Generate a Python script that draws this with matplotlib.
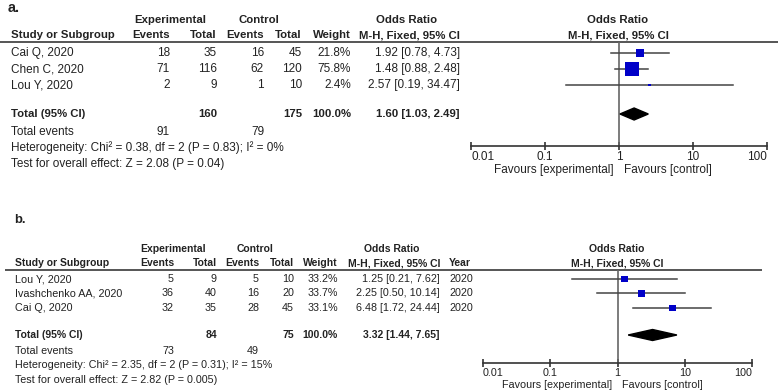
import matplotlib.pyplot as plt
import numpy as np

plt.rcParams['font.family'] = ['Liberation Sans', 'DejaVu Sans']

W, H = 778, 392

# ---- panel a data ----
a_study = ['Cai Q, 2020', 'Chen C, 2020', 'Lou Y, 2020']
a_exp_events = [18, 71, 2]
a_exp_total = [35, 116, 9]
a_ctrl_events = [16, 62, 1]
a_ctrl_total = [45, 120, 10]
a_weight = [21.8, 75.8, 2.4]
a_or = [1.92, 1.48, 2.57]
a_lo = [0.78, 0.88, 0.19]
a_hi = [4.73, 2.48, 34.47]
a_total = dict(exp_total=160, ctrl_total=175, weight=100.0, est=1.60, lo=1.03, hi=2.49,
               exp_events=91, ctrl_events=79)
a_het = 'Heterogeneity: Chi² = 0.38, df = 2 (P = 0.83); I² = 0%'
a_test = 'Test for overall effect: Z = 2.08 (P = 0.04)'

# ---- panel b data ----
b_study = ['Lou Y, 2020', 'Ivashchenko AA, 2020', 'Cai Q, 2020']
b_exp_events = [5, 36, 32]
b_exp_total = [9, 40, 35]
b_ctrl_events = [5, 16, 28]
b_ctrl_total = [10, 20, 45]
b_weight = [33.2, 33.7, 33.1]
b_or = [1.25, 2.25, 6.48]
b_lo = [0.21, 0.50, 1.72]
b_hi = [7.62, 10.14, 24.44]
b_year = [2020, 2020, 2020]
b_total = dict(exp_total=84, ctrl_total=75, weight=100.0, est=3.32, lo=1.44, hi=7.65,
               exp_events=73, ctrl_events=49)
b_het = 'Heterogeneity: Chi² = 2.35, df = 2 (P = 0.31); I² = 15%'
b_test = 'Test for overall effect: Z = 2.82 (P = 0.005)'

ticks = [0.01, 0.1, 1, 10, 100]
tick_labels = ['0.01', '0.1', '1', '10', '100']

TXT = '#222222'

fig = plt.figure(figsize=(W / 100, H / 100), dpi=100)
bg = fig.add_axes([0, 0, 1, 1])
bg.set_xlim(0, W)
bg.set_ylim(H, 0)
bg.axis('off')


def draw_panel(L, study, ev_e, tot_e, ev_c, tot_c, weight, est, lo, hi, total, het, test, year=None):
    fs, fsb = L['fs'], L['fsb']
    t = dict(fontsize=fs, color=TXT, va='center')
    tb = dict(fontsize=fsb, color=TXT, va='center', fontweight='bold')
    bg.text(L['label_x'], L['label_y'], L['label'], fontsize=fsb * 1.25, fontweight='bold', color=TXT, va='center')

    # headers
    h1, h2 = L['h1'], L['h2']
    bg.text(L['exp_c'], h1, 'Experimental', ha='center', **tb)
    bg.text(L['ctrl_c'], h1, 'Control', ha='center', **tb)
    bg.text(L['or_h_c'], h1, 'Odds Ratio', ha='center', **tb)
    bg.text(L['study_x'], h2, 'Study or Subgroup', ha='left', **tb)
    bg.text(L['c_ev_e'], h2, 'Events', ha='right', **tb)
    bg.text(L['c_tot_e'], h2, 'Total', ha='right', **tb)
    bg.text(L['c_ev_c'], h2, 'Events', ha='right', **tb)
    bg.text(L['c_tot_c'], h2, 'Total', ha='right', **tb)
    bg.text(L['c_w'], h2, 'Weight', ha='right', **tb)
    bg.text(L['c_or'], h2, 'M-H, Fixed, 95% CI', ha='right', **tb)
    if year is not None:
        bg.text(L['c_year'], h2, 'Year', ha='left', **tb)
    bg.text(L['fp_c'], h1, 'Odds Ratio', ha='center', **tb)
    bg.text(L['fp_c'], h2, 'M-H, Fixed, 95% CI', ha='center', **tb)
    bg.plot([L['line_x0'], L['line_x1']], [L['line_y']] * 2, color='#555555', lw=1.4, solid_capstyle='butt')

    # study rows
    ys = [L['row0'] + i * L['row_h'] for i in range(len(study))]
    for i, y in enumerate(ys):
        bg.text(L['study_x'], y, study[i], ha='left', **t)
        bg.text(L['c_ev_e'], y, str(ev_e[i]), ha='right', **t)
        bg.text(L['c_tot_e'], y, str(tot_e[i]), ha='right', **t)
        bg.text(L['c_ev_c'], y, str(ev_c[i]), ha='right', **t)
        bg.text(L['c_tot_c'], y, str(tot_c[i]), ha='right', **t)
        bg.text(L['c_w'], y, f'{weight[i]:.1f}%', ha='right', **t)
        bg.text(L['c_or'], y, f'{est[i]:.2f} [{lo[i]:.2f}, {hi[i]:.2f}]', ha='right', **t)
        if year is not None:
            bg.text(L['c_year'], y, str(year[i]), ha='left', **t)

    # total rows
    yt = L['tot_y']
    bg.text(L['study_x'], yt, 'Total (95% CI)', ha='left', **tb)
    bg.text(L['c_tot_e'], yt, str(total['exp_total']), ha='right', **tb)
    bg.text(L['c_tot_c'], yt, str(total['ctrl_total']), ha='right', **tb)
    bg.text(L['c_w'], yt, f"{total['weight']:.1f}%", ha='right', **tb)
    bg.text(L['c_or'], yt, f"{total['est']:.2f} [{total['lo']:.2f}, {total['hi']:.2f}]", ha='right', **tb)
    bg.text(L['study_x'], L['ev_y'], 'Total events', ha='left', **t)
    bg.text(L['c_ev_e'], L['ev_y'], str(total['exp_events']), ha='right', **t)
    bg.text(L['c_ev_c'], L['ev_y'], str(total['ctrl_events']), ha='right', **t)
    bg.text(L['study_x'], L['het_y'], het, ha='left', **t)
    bg.text(L['study_x'], L['test_y'], test, ha='left', **t)

    # forest plot axes
    x0, x1, ytop, ybot = L['fp_x0'], L['fp_x1'], L['line_y'], L['axis_y']
    ax = fig.add_axes([x0 / W, 1 - ybot / H, (x1 - x0) / W, (ybot - ytop) / H])
    ax.patch.set_alpha(0)
    ax.set_xscale('log')
    ax.set_xlim(0.01, 100)
    ax.set_ylim(ybot, ytop)
    for s in ['left', 'right', 'top']:
        ax.spines[s].set_visible(False)
    ax.spines['bottom'].set_color('#333333')
    ax.spines['bottom'].set_linewidth(1.2)
    ax.set_yticks([])
    ax.set_xticks(ticks)
    ax.set_xticklabels(tick_labels)
    ax.minorticks_off()
    ax.tick_params(axis='x', direction='inout', length=6, width=1.2, color='#333333',
                   labelsize=fs, labelcolor=TXT, pad=0.5)
    lbls = ax.get_xticklabels()
    lbls[0].set_horizontalalignment('left')
    lbls[-1].set_horizontalalignment('right')
    ax.axvline(1, color='#666666', lw=1.2)

    sizes = [(L['sq_k'] * np.sqrt(w) * 0.72) ** 2 for w in weight]
    for i, y in enumerate(ys):
        ax.plot([lo[i], hi[i]], [y, y], color='#444444', lw=1.1, clip_on=False)
    ax.scatter(est, ys, s=sizes, marker='s', color='#0000c8', edgecolors='none', zorder=3, clip_on=False)

    dh = L['dia_h'] / 2
    ax.fill([total['lo'], total['est'], total['hi'], total['est']],
            [yt, yt - dh, yt, yt + dh], color='black', zorder=3, clip_on=False)

    ax.annotate('Favours [experimental]', xy=(1, 0), xycoords=('data', 'axes fraction'),
                xytext=(-5, -L['fav_dy']), textcoords='offset pixels', ha='right', va='center',
                fontsize=fs, color=TXT)
    ax.annotate('Favours [control]', xy=(1, 0), xycoords=('data', 'axes fraction'),
                xytext=(5, -L['fav_dy']), textcoords='offset pixels', ha='left', va='center',
                fontsize=fs, color=TXT)


layout_a = dict(fs=8.5, fsb=8.2, label='a.', label_x=8, label_y=8,
                h1=20, h2=35, line_y=42, line_x0=0, line_x1=778,
                row0=53, row_h=16, tot_y=114, ev_y=132, het_y=148, test_y=164,
                study_x=11, c_ev_e=170, c_tot_e=217, c_ev_c=264, c_tot_c=302, c_w=351, c_or=460,
                exp_c=170, ctrl_c=259, or_h_c=407,
                fp_x0=471, fp_x1=767, fp_c=618, axis_y=146, fav_dy=24,
                sq_k=1.61, dia_h=12)

layout_b = dict(fs=7.75, fsb=7.5, label='b.', label_x=14, label_y=220,
                h1=249, h2=263, line_y=270, line_x0=5, line_x1=762,
                row0=279, row_h=14.5, tot_y=335, ev_y=351, het_y=365, test_y=380,
                study_x=15, c_ev_e=174, c_tot_e=217, c_ev_c=259, c_tot_c=294, c_w=338, c_or=440,
                c_year=449, exp_c=173, ctrl_c=255, or_h_c=392,
                fp_x0=483, fp_x1=752, fp_c=617, axis_y=363, fav_dy=22,
                sq_k=1.21, dia_h=11)

draw_panel(layout_a, a_study, a_exp_events, a_exp_total, a_ctrl_events, a_ctrl_total,
           a_weight, a_or, a_lo, a_hi, a_total, a_het, a_test)
draw_panel(layout_b, b_study, b_exp_events, b_exp_total, b_ctrl_events, b_ctrl_total,
           b_weight, b_or, b_lo, b_hi, b_total, b_het, b_test, year=b_year)

fig.savefig('out.png', dpi=100)
